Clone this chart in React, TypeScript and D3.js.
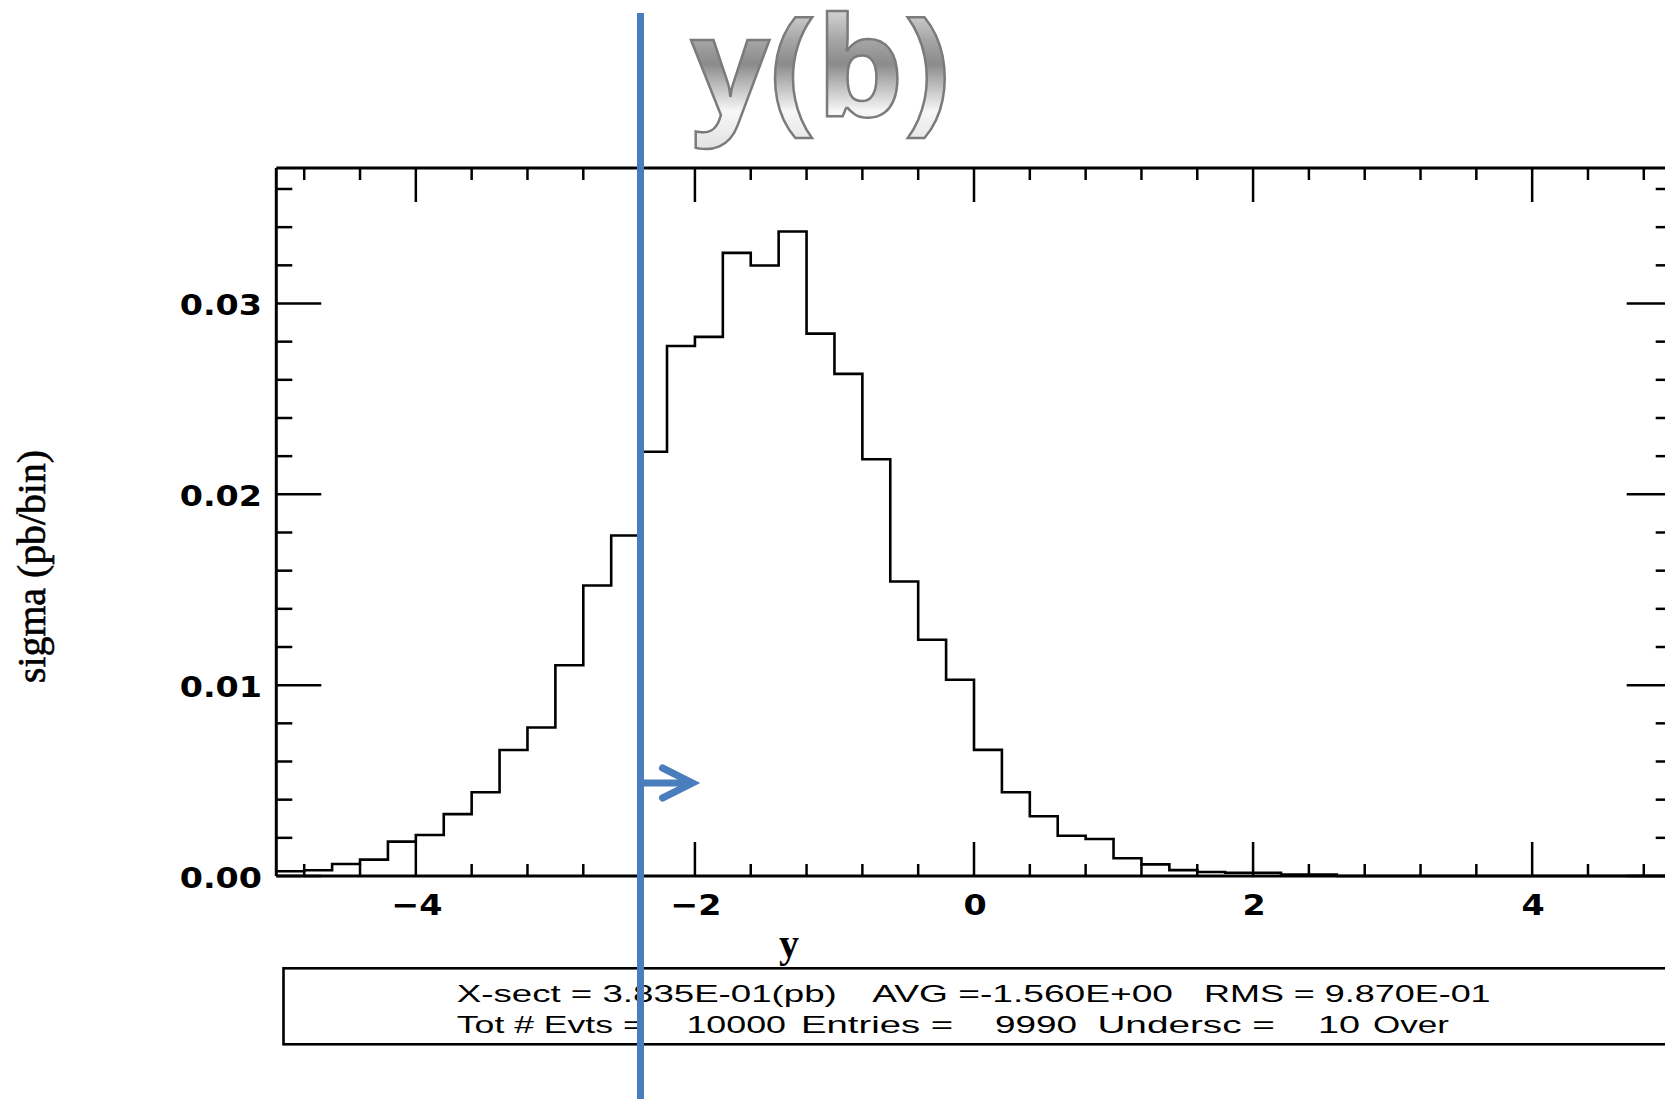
import React from 'react';
import * as d3 from 'd3';

// Rapidity histogram of the b quark: 50 bins of width 0.2 from -5 to 5
const binStart = -5;
const binWidth = 0.2;
const sigma = [
  0.00025, 0.0003, 0.00063, 0.00086, 0.0018, 0.00215, 0.00324, 0.00439, 0.0066, 0.00778,
  0.01104, 0.01522, 0.01784, 0.02223, 0.02777, 0.02825, 0.03265, 0.03199, 0.03377, 0.02842,
  0.02631, 0.02184, 0.01543, 0.01238, 0.01028, 0.00661, 0.00439, 0.00313, 0.00211, 0.00194,
  0.00093, 0.00061, 0.00031, 0.00021, 0.00017, 0.00017, 0.00007, 0.00007, 0, 0,
  0, 0, 0, 0, 0, 0, 0, 0, 0, 0,
];

const xDomain = [-5, 5];
const yDomain = [0, 0.0371];
const xMajorTicks = [-4, -2, 0, 2, 4];
const xTickLabels = ['\u22124', '\u22122', '0', '2', '4'];
const yMajorTicks = [0, 0.01, 0.02, 0.03];
const yTickLabels = ['0.00', '0.01', '0.02', '0.03'];
const xMinorStep = 0.4;
const yMinorStep = 0.002;

// rapidity cut marker
const cutValue = -2.39;

const titleText = 'y(b)';
const xAxisTitle = 'y';
const yAxisTitle = 'sigma (pb/bin)';
const statsLine1 = ['X-sect = 3.835E-01(pb)', 'AVG =-1.560E+00', 'RMS = 9.870E-01'];
const statsLine2 = ['Tot # Evts =', '10000', 'Entries =', '9990', 'Undersc =', '10', 'Over'];

const W = 1665;
const H = 1099;

export default function App() {
  const x = d3.scaleLinear().domain(xDomain).range([276.3, 1671.7]);
  const y = d3.scaleLinear().domain(yDomain).range([876, 168]);

  const [x0, x1] = x.range();
  const [yb, yt] = y.range();

  // step outline of the histogram
  const pts: [number, number][] = sigma.map((v, i) => [binStart + i * binWidth, v]);
  pts.push([binStart + sigma.length * binWidth, sigma[sigma.length - 1]]);
  const stepLine = d3
    .line<[number, number]>()
    .x((d) => x(d[0]))
    .y((d) => y(d[1]))
    .curve(d3.curveStepAfter);

  const xTicks = d3.range(-4.8, 4.81, xMinorStep).map((v) => Math.round(v * 10) / 10);
  const yTicks = d3.range(0, yDomain[1], yMinorStep).map((v) => Math.round(v * 1000) / 1000);
  const isXMajor = (v: number) => xMajorTicks.some((m) => Math.abs(m - v) < 1e-6);
  const isYMajor = (v: number) => yMajorTicks.some((m) => Math.abs(m - v) < 1e-6);

  const cx = x(cutValue);
  const arrowY = 783;

  const line1Pos = [
    [456.8, 380],
    [872.3, 300.7],
    [1204, 286.6],
  ];
  const line2Pos = [
    [456.8, 186.9],
    [686.4, 99.6],
    [801, 152],
    [995, 82],
    [1097.4, 177.6],
    [1318, 42],
    [1373, 76],
  ];

  return (
    <svg
      width={W}
      height={H}
      style={{ position: 'absolute', left: 0, top: 0, display: 'block', background: '#fff' }}
    >
      <defs>
        <linearGradient id="titleFill" gradientUnits="userSpaceOnUse" x1={0} y1={10} x2={0} y2={145}>
          <stop offset="0" stopColor="#d4d4d4" />
          <stop offset="0.22" stopColor="#a6a6a6" />
          <stop offset="0.4" stopColor="#8b8b8b" />
          <stop offset="0.75" stopColor="#f7f7f7" />
          <stop offset="1" stopColor="#e4e4e4" />
        </linearGradient>
      </defs>

      {/* frame */}
      <g stroke="#000" strokeWidth={3} fill="none">
        <line x1={x0} y1={yt} x2={x1 + 2} y2={yt} />
        <line x1={x0} y1={yb} x2={x1 + 2} y2={yb} />
        <line x1={x0} y1={yt} x2={x0} y2={yb} />
        <line x1={x1} y1={yt} x2={x1} y2={yb} />
      </g>

      {/* x ticks, top and bottom, pointing inward */}
      <g stroke="#000" strokeWidth={2.5}>
        {xTicks.map((v) => {
          const len = isXMajor(v) ? 34 : 12;
          const px = x(v);
          return (
            <g key={'xt' + v}>
              <line x1={px} y1={yt} x2={px} y2={yt + len} />
              <line x1={px} y1={yb} x2={px} y2={yb - len} />
            </g>
          );
        })}
        {yTicks.map((v) => {
          const len = isYMajor(v) ? 45 : 16;
          const py = y(v);
          return (
            <g key={'yt' + v}>
              <line x1={x0} y1={py} x2={x0 + len} y2={py} />
              <line x1={x1} y1={py} x2={x1 - len} y2={py} />
            </g>
          );
        })}
      </g>

      {/* tick labels */}
      <g fontFamily="'DejaVu Sans', sans-serif" fontWeight="bold" fontSize={29} fill="#000">
        {yMajorTicks.map((v, i) => (
          <text key={'yl' + v} textAnchor="end" transform={`translate(262,${y(v) + 12}) scale(1.15,1)`}>
            {yTickLabels[i]}
          </text>
        ))}
        {xMajorTicks.map((v, i) => (
          <text key={'xl' + v} textAnchor="middle" transform={`translate(${x(v) + 1},915) scale(1.15,1)`}>
            {xTickLabels[i]}
          </text>
        ))}
      </g>

      {/* axis titles */}
      <text
        x={789}
        y={957}
        textAnchor="middle"
        fontFamily="'Liberation Serif', serif"
        fontWeight="bold"
        fontSize={40}
      >
        {xAxisTitle}
      </text>
      <text
        transform="translate(45,566.5) rotate(-90)"
        textAnchor="middle"
        fontFamily="'Liberation Serif', serif"
        fontSize={39}
        textLength={233}
        lengthAdjust="spacingAndGlyphs"
        stroke="#000"
        strokeWidth={0.6}
      >
        {yAxisTitle}
      </text>

      {/* histogram */}
      <path d={stepLine(pts) || ''} fill="none" stroke="#000" strokeWidth={2.6} />

      {/* statistics box */}
      <rect x={283.5} y={968.3} width={1420} height={76} fill="none" stroke="#000" strokeWidth={2.6} />
      <g fontFamily="'Liberation Sans', Arial, sans-serif" fontSize={24} fill="#000">
        {statsLine1.map((s, i) => (
          <text
            key={'s1' + i}
            x={line1Pos[i][0]}
            y={1001.5}
            textLength={line1Pos[i][1]}
            lengthAdjust="spacingAndGlyphs"
            style={{ whiteSpace: 'pre' }}
          >
            {s}
          </text>
        ))}
        {statsLine2.map((s, i) => (
          <text
            key={'s2' + i}
            x={line2Pos[i][0]}
            y={1032.5}
            textLength={line2Pos[i][1]}
            lengthAdjust="spacingAndGlyphs"
            style={{ whiteSpace: 'pre' }}
          >
            {s}
          </text>
        ))}
      </g>

      {/* title */}
      <text
        x={691}
        y={116}
        fontFamily="'Open Sans', sans-serif"
        fontWeight={700}
        fontSize={138}
        fill="url(#titleFill)"
        stroke="#7b7b7b"
        strokeWidth={2.5}
      >
        {titleText}
      </text>

      {/* cut marker with arrow */}
      <g stroke="#4a7dbb" strokeWidth={7} fill="none">
        <line x1={cx} y1={13} x2={cx} y2={H} />
        <line x1={cx} y1={arrowY} x2={cx + 50} y2={arrowY} />
        <polyline
          points={`${cx + 22},${arrowY - 15} ${cx + 52},${arrowY} ${cx + 22},${arrowY + 15}`}
          strokeLinecap="round"
          strokeLinejoin="miter"
        />
      </g>
    </svg>
  );
}
